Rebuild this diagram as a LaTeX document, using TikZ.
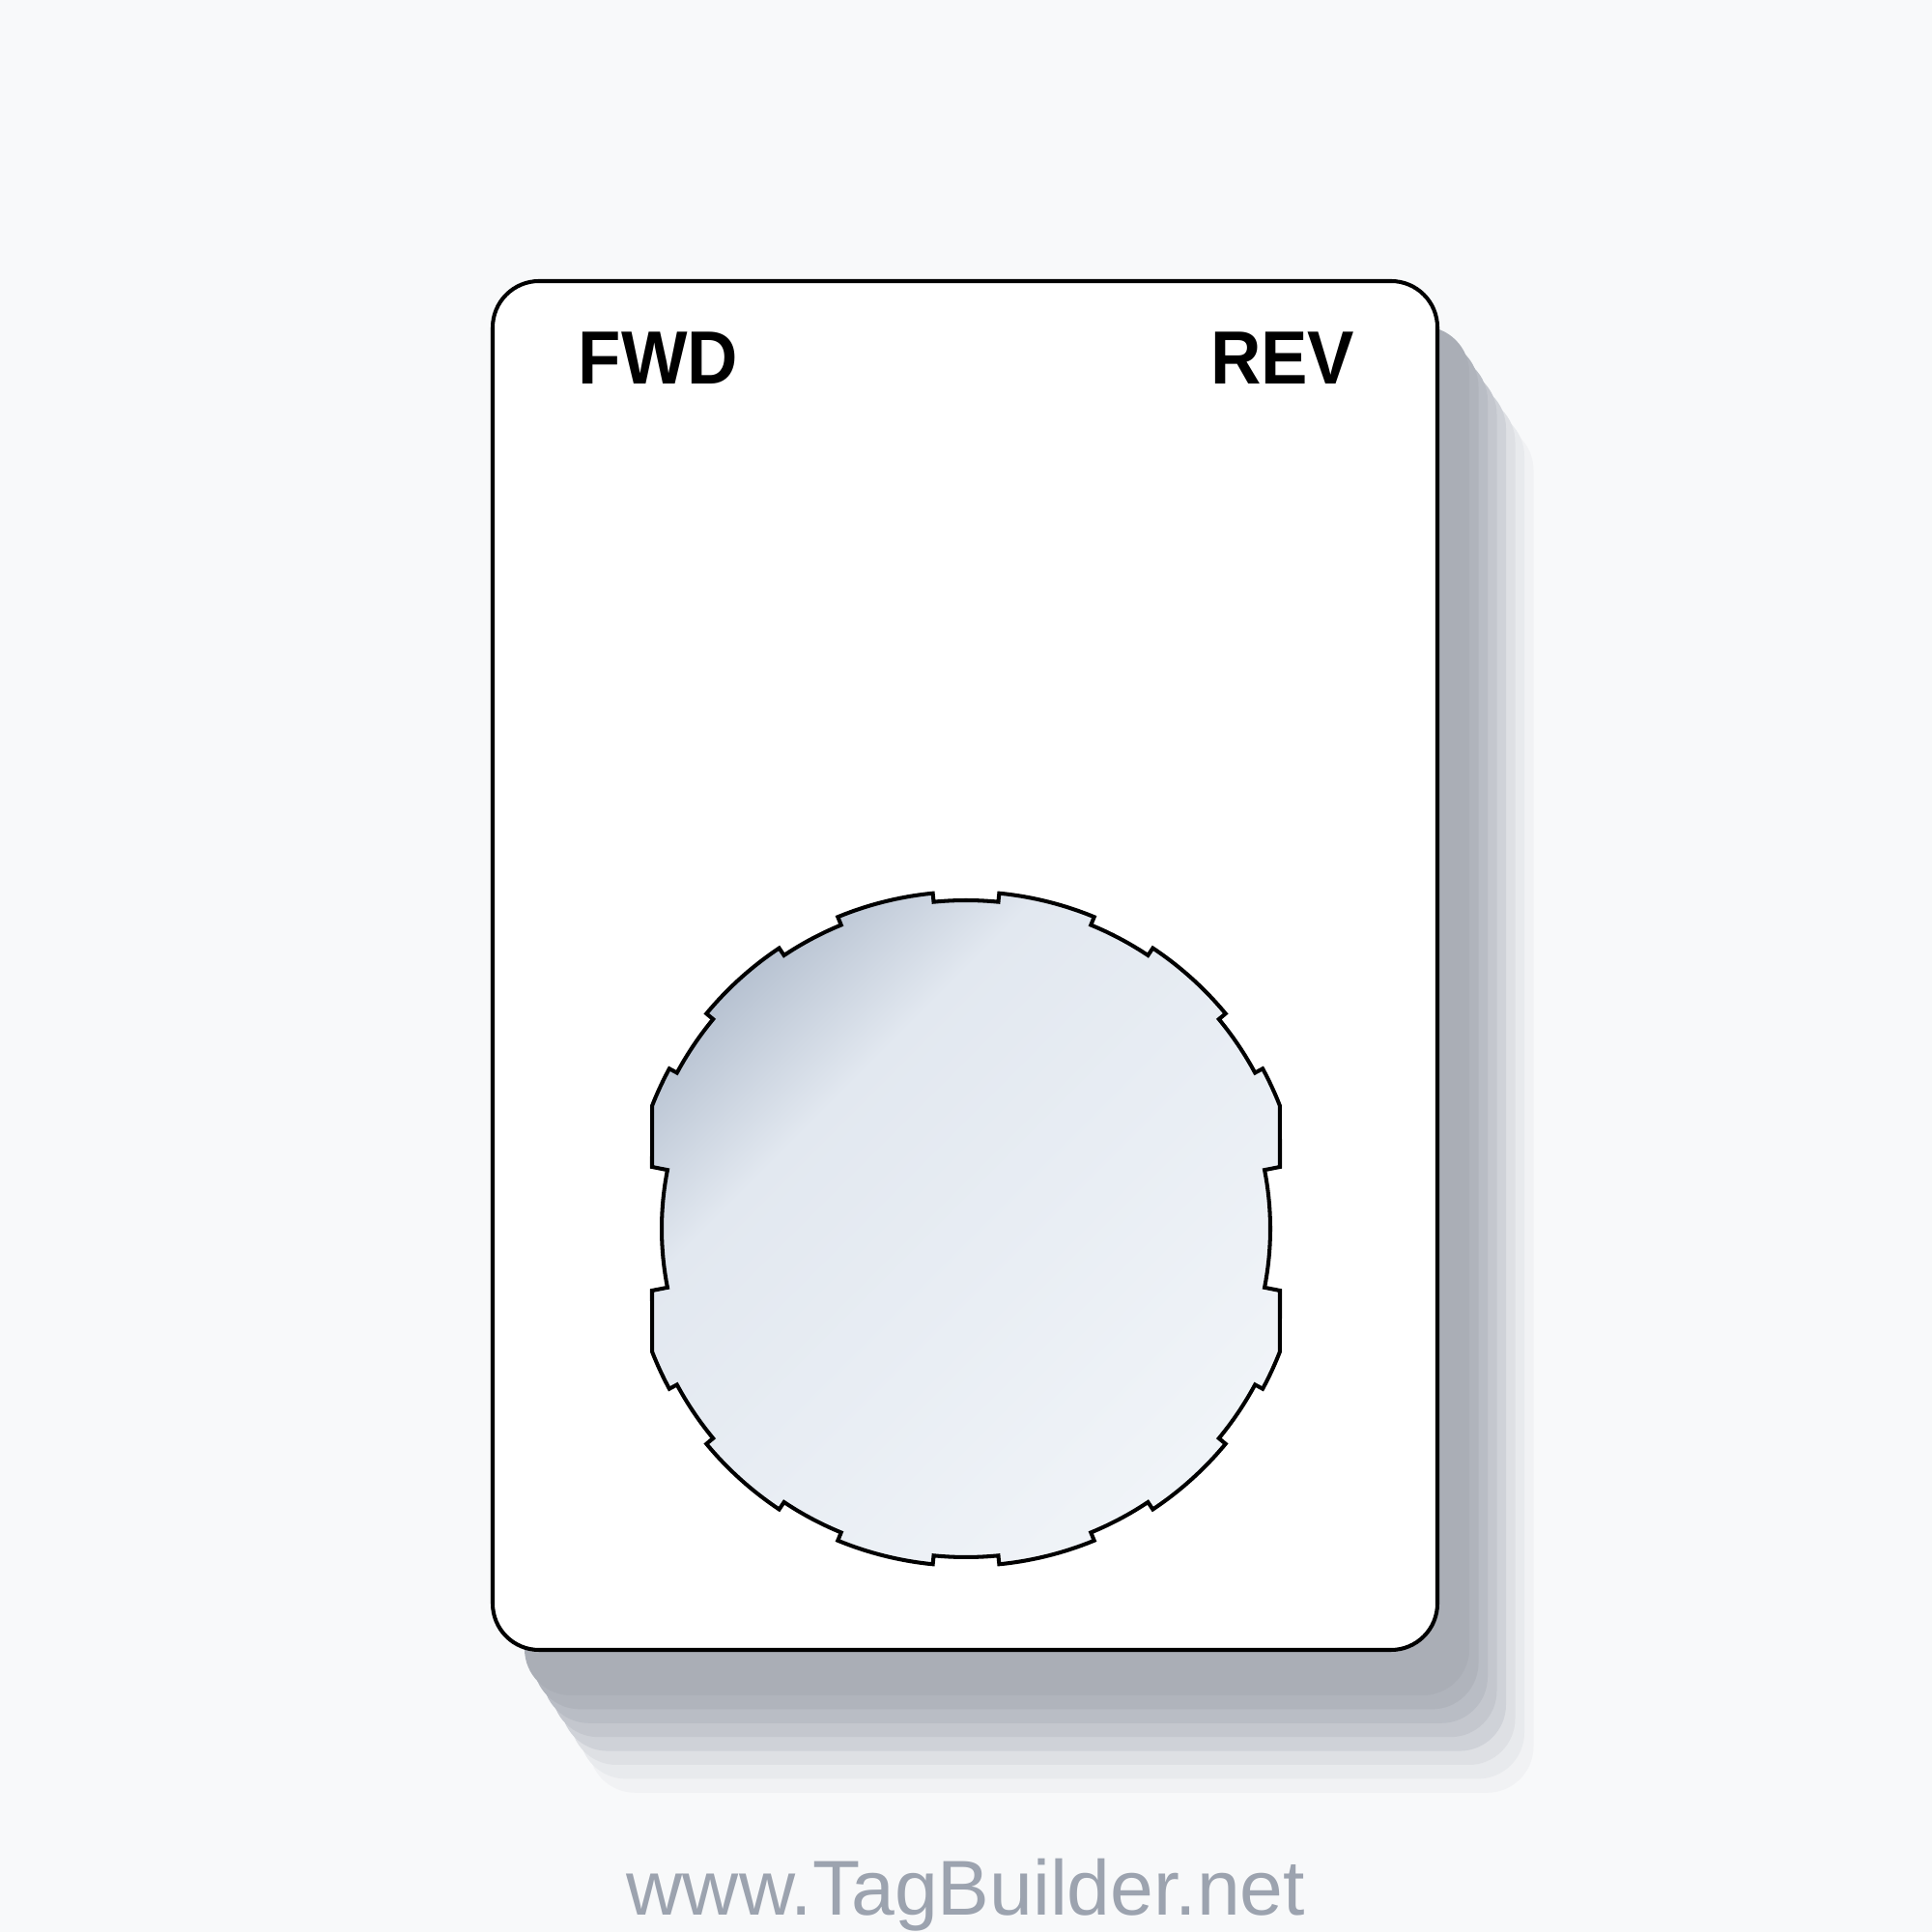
\documentclass[tikz,border=0pt]{standalone}
\usepackage{fontspec}
\usepackage{graphicx}
\newfontfamily\tagsans{Liberation Sans}
\definecolor{pagebg}{RGB}{248,249,250}
\definecolor{urlgray}{RGB}{156,163,175}
\definecolor{discA}{HTML}{94A3B8}
\definecolor{discB}{HTML}{E2E8F0}
\definecolor{discC}{HTML}{F4F7FA}
\definecolor{shadeA}{RGB}{170,174,182}
\definecolor{shadeB}{RGB}{176,180,188}
\definecolor{shadeC}{RGB}{185,189,197}
\definecolor{shadeD}{RGB}{196,199,206}
\definecolor{shadeE}{RGB}{207,210,216}
\definecolor{shadeF}{RGB}{222,224,228}
\definecolor{shadeG}{RGB}{232,234,237}
\definecolor{shadeH}{RGB}{241,242,244}
\pgfdeclarehorizontalshading{discfade}{300bp}{color(0bp)=(discA); color(81bp)=(discB); color(270bp)=(discC)}
\begin{document}
\begin{tikzpicture}
    [card/.style={fill=white, draw=black, line width=1.15pt, rounded corners=0.48cm},
     shadowlayer/.style={rounded corners=0.48cm},
     disc/.style={draw=black, line width=1.15pt, line join=miter,
                  path picture={\node[rotate=-45, inner sep=0pt] (discshade) at (path picture bounding box.center) {\pgfuseshading{discfade}};}},
     tag label/.style={inner sep=0pt, font=\tagsans\bfseries\fontsize{22.2pt}{26pt}\selectfont},
     url text/.style={inner sep=0pt, text=urlgray, font=\tagsans\fontsize{22.9pt}{27pt}\selectfont}]
    \fill[pagebg] (0,0) rectangle (20,20);
    \useasboundingbox (0,0) rectangle (20,20);
    % stacked shadow, lightest first
    \foreach \k/\col in {8/shadeH, 7/shadeG, 6/shadeF, 5/shadeE, 4/shadeD, 3/shadeC, 2/shadeB, 1/shadeA}
        \fill[shadowlayer, \col, shift={({0.33+0.095*(\k-1)},{-0.47-0.144*(\k-1)})}] (5.10,2.92) rectangle (14.88,17.09);
    \draw[card] (5.10,2.92) rectangle (14.88,17.09);
    \node[tag label, anchor=base west] (fwd) at (5.98,16.02) {\scalebox{0.93}[1]{FWD}};
    \node[tag label, anchor=base east] (rev) at (14.03,16.02) {\scalebox{0.93}[1]{REV}};
    % notched cut-out
    \begin{scope}[shift={(10,7.28)}]
        \draw[disc] (21.4:3.49) arc[start angle=21.4, end angle=28.35, radius=3.49]
            \foreach \c/\e in {34/56.35, 62/84.35, 90/112.35, 118/140.35, 146/158.6} {
                -- ({\c-5.65}:3.40) arc[start angle=\c-5.65, end angle=\c+5.65, radius=3.40]
                -- ({\c+5.65}:3.49) arc[start angle=\c+5.65, end angle=\e, radius=3.49]
            }
            -- (-3.25,0.64) -- (168.86:3.15) arc[start angle=168.86, end angle=191.14, radius=3.15]
            -- (-3.25,-0.64) -- (201.4:3.49) arc[start angle=201.4, end angle=208.35, radius=3.49]
            \foreach \c/\e in {214/236.35, 242/264.35, 270/292.35, 298/320.35, 326/338.6} {
                -- ({\c-5.65}:3.40) arc[start angle=\c-5.65, end angle=\c+5.65, radius=3.40]
                -- ({\c+5.65}:3.49) arc[start angle=\c+5.65, end angle=\e, radius=3.49]
            }
            -- (3.25,-0.64) -- (-11.14:3.15) arc[start angle=-11.14, end angle=11.14, radius=3.15]
            -- (3.25,0.64) -- cycle;
    \end{scope}
    \node[url text, anchor=base] (url) at (10,0.17) {www.TagBuilder.net};
\end{tikzpicture}
\end{document}
